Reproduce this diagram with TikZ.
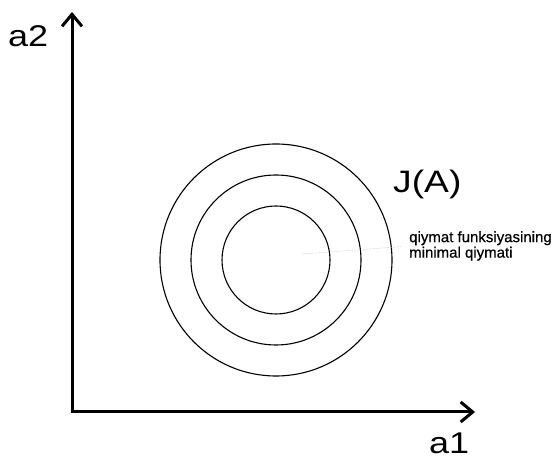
\documentclass[tikz,border=0pt]{standalone}
\usepackage{fontspec}
\setmainfont{Liberation Sans}
\newfontfamily\widefont[FakeStretch=1.2]{Liberation Sans}
\newfontfamily\notefont[FakeBold=0.6]{Liberation Sans}
\usepackage{tikz}
\usetikzlibrary{arrows.meta, positioning}

\begin{document}
\begin{tikzpicture}[
    x=1pt, y=1pt,
    axis/.style={line width=3pt, line join=miter, {Straight Barb[length=12pt, width=20pt]}-{Straight Barb[length=12pt, width=20pt]}},
    level/.style={draw, circle, line width=1.1pt, inner sep=0pt, outer sep=0pt},
    axlabel/.style={font=\widefont\fontsize{30}{30}\selectfont, inner sep=0pt},
    guide/.style={densely dotted, gray!60, line width=0.5pt}
]
    \useasboundingbox (0,0) rectangle (559,462);

    % Axes
    \coordinate (origin) at (72,50);
    \coordinate (ytip) at (72,450);
    \coordinate (xtip) at (475,50);
    \draw[axis] (ytip) -- (origin) -- (xtip);

    % Axis labels
    \node[axlabel, anchor=base west] (a2lbl) at (8,415) {a2};
    \node[axlabel, anchor=base west] (a1lbl) at (429,8) {a1};

    % Level curves
    \coordinate (center) at (276,202);
    \node[level, minimum size=232pt] (lvlout) at (center) {};
    \node[level, minimum size=170pt] (lvlmid) at (center) {};
    \node[level, minimum size=108pt] (lvlin) at (center) {};

    % Function name
    \node[axlabel, font=\widefont\fontsize{31}{31}\selectfont, anchor=base west] (jlbl) at (393,269) {J(A)};

    % Minimum annotation
    \coordinate (minpt) at (303,208);
    \node[anchor=west, inner sep=0pt, align=left, font=\notefont\fontsize{15}{15.5}\selectfont] (minlbl) at (409,216)
        {qiymat funksiyasining\\minimal qiymati};
    \draw[guide, shorten >=8pt] (minpt) -- (minlbl.west);

\end{tikzpicture}
\end{document}
